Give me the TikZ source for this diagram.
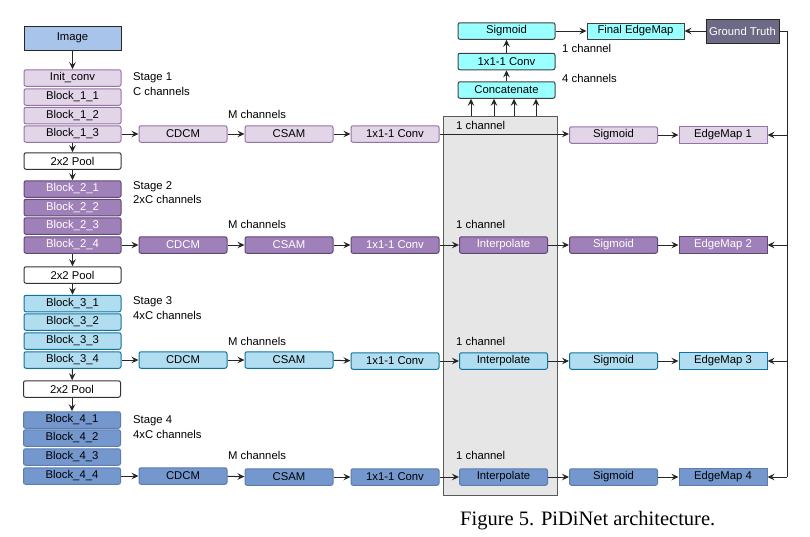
\documentclass[tikz,border=0pt]{standalone}
\usepackage{fontspec}
\setmainfont{Liberation Sans}
\newfontfamily\capfont{Liberation Serif}
\usepackage{tikz}
\usetikzlibrary{arrows.meta, calc, positioning}

\definecolor{imgfill}{HTML}{A9C4EB}
\definecolor{sonefill}{HTML}{E1D5E7}
\definecolor{sonedraw}{HTML}{9673A6}
\definecolor{stwofill}{HTML}{A080B8}
\definecolor{stwodraw}{HTML}{5E4A78}
\definecolor{sthreefill}{HTML}{B1DDF0}
\definecolor{sthreedraw}{HTML}{10739E}
\definecolor{sfourfill}{HTML}{7498CE}
\definecolor{sfourdraw}{HTML}{5C7CAE}
\definecolor{fusefill}{HTML}{99FFFF}
\definecolor{gtfill}{HTML}{6D6A85}
\definecolor{boxgrey}{HTML}{E6E6E6}

\tikzset{
    >={Stealth[length=7pt,width=6.5pt,inset=2.5pt]},
    every node/.style={font=\fontsize{11.3}{13}\selectfont},
    blk/.style={draw, rounded corners=2pt, line width=1pt, minimum width=97pt, minimum height=16.5pt, inner sep=0pt},
    mid/.style={blk, minimum width=88pt},
    sqr/.style={draw, line width=1pt, minimum width=88pt, minimum height=16.5pt, inner sep=0pt},
    sone/.style={fill=sonefill, draw=sonedraw},
    stwo/.style={fill=stwofill, draw=stwodraw, text=white},
    sthree/.style={fill=sthreefill, draw=sthreedraw},
    sfour/.style={fill=sfourfill, draw=sfourdraw},
    pool/.style={blk, fill=white, draw=black!80},
    topbox/.style={blk, fill=fusefill, draw=black!75},
    lbl/.style={anchor=west, inner sep=0pt},
    link/.style={->, line width=1pt, draw=black!85}
}

\begin{document}
\begin{tikzpicture}[x=1pt, y=-1pt]
    \useasboundingbox (0, 0) rectangle (810, 536);

    % grey fusion box
    \node[draw=black!65, fill=boxgrey, line width=1pt, minimum width=114pt, minimum height=379pt, inner sep=0pt] (fuse) at (500, 305.5) {};

    % backbone
    \node[draw=black!85, fill=imgfill, line width=1pt, minimum width=97pt, minimum height=24pt, inner sep=0pt] (img) at (72.5, 38) {Image};
    \node[blk, sone] (init) at (72.5, 78) {Init\_conv};
    \node[blk, sone] (b11) at (72.5, 97) {Block\_1\_1};
    \node[blk, sone] (b12) at (72.5, 115.5) {Block\_1\_2};
    \node[blk, sone] (b13) at (72.5, 134) {Block\_1\_3};
    \node[pool] (p1) at (72.5, 161) {2x2 Pool};
    \node[blk, stwo] (b21) at (72.5, 189) {Block\_2\_1};
    \node[blk, stwo] (b22) at (72.5, 207.5) {Block\_2\_2};
    \node[blk, stwo] (b23) at (72.5, 226) {Block\_2\_3};
    \node[blk, stwo] (b24) at (72.5, 245) {Block\_2\_4};
    \node[pool] (p2) at (72.5, 275) {2x2 Pool};
    \node[blk, sthree] (b31) at (72.5, 303.5) {Block\_3\_1};
    \node[blk, sthree] (b32) at (72.5, 322) {Block\_3\_2};
    \node[blk, sthree] (b33) at (72.5, 341) {Block\_3\_3};
    \node[blk, sthree] (b34) at (72.5, 360) {Block\_3\_4};
    \node[pool] (p3) at (72, 389) {2x2 Pool};
    \node[blk, sfour] (b41) at (72, 420) {Block\_4\_1};
    \node[blk, sfour] (b42) at (72, 438) {Block\_4\_2};
    \node[blk, sfour] (b43) at (72, 457) {Block\_4\_3};
    \node[blk, sfour] (b44) at (72, 476) {Block\_4\_4};

    \node[lbl] (st1) at (133, 78) {Stage 1};
    \node[lbl] (ch1) at (133, 91) {C channels};
    \node[lbl] (st2) at (133, 187) {Stage 2};
    \node[lbl] (ch2) at (133, 199) {2xC channels};
    \node[lbl] (st3) at (133, 302) {Stage 3};
    \node[lbl] (ch3) at (133, 315) {4xC channels};
    \node[lbl] (st4) at (133, 421) {Stage 4};
    \node[lbl] (ch4) at (133, 434) {4xC channels};

    % side outputs
    \node[mid, sone] (cd1) at (183, 134) {CDCM};
    \node[mid, sone] (cs1) at (289, 134) {CSAM};
    \node[mid, sone] (cv1) at (395, 134) {1x1-1 Conv};
    \node[mid, sone] (sg1) at (613.5, 135) {Sigmoid};
    \node[sqr, sone] (em1) at (723, 135) {EdgeMap 1};

    \node[mid, stwo] (cd2) at (183, 245) {CDCM};
    \node[mid, stwo] (cs2) at (289, 245) {CSAM};
    \node[mid, stwo] (cv2) at (395, 245) {1x1-1 Conv};
    \node[mid, stwo] (ip2) at (503.5, 245) {Interpolate};
    \node[mid, stwo] (sg2) at (613.5, 245) {Sigmoid};
    \node[sqr, stwo] (em2) at (723, 245) {EdgeMap 2};

    \node[mid, sthree] (cd3) at (183, 360) {CDCM};
    \node[mid, sthree] (cs3) at (289, 360) {CSAM};
    \node[mid, sthree] (cv3) at (395, 361) {1x1-1 Conv};
    \node[mid, sthree] (ip3) at (503.5, 361) {Interpolate};
    \node[mid, sthree] (sg3) at (613.5, 361) {Sigmoid};
    \node[sqr, sthree] (em3) at (723, 361) {EdgeMap 3};

    \node[mid, sfour] (cd4) at (183, 476) {CDCM};
    \node[mid, sfour] (cs4) at (289, 477) {CSAM};
    \node[mid, sfour] (cv4) at (395, 477) {1x1-1 Conv};
    \node[mid, sfour] (ip4) at (503.5, 477) {Interpolate};
    \node[mid, sfour] (sg4) at (613.5, 477) {Sigmoid};
    \node[sqr, sfour] (em4) at (723, 477) {EdgeMap 4};

    \node[lbl] (m1) at (228, 114) {M channels};
    \node[lbl] (m2) at (228, 224) {M channels};
    \node[lbl] (m3) at (228, 341) {M channels};
    \node[lbl] (m4) at (228, 455) {M channels};
    \node[lbl] (o1) at (456, 125) {1 channel};
    \node[lbl] (o2) at (456, 224) {1 channel};
    \node[lbl] (o3) at (456, 341) {1 channel};
    \node[lbl] (o4) at (456, 455) {1 channel};

    % fusion head
    \node[topbox] (cat) at (506.5, 90) {Concatenate};
    \node[topbox] (fcv) at (506.5, 61.5) {1x1-1 Conv};
    \node[topbox] (fsg) at (506.5, 31) {Sigmoid};
    \node[draw=black!75, fill=fusefill, line width=1pt, minimum width=97pt, minimum height=16pt, inner sep=0pt] (final) at (635.5, 31) {Final EdgeMap};
    \node[draw=black!85, fill=gtfill, text=white, line width=1pt, minimum width=73pt, minimum height=24pt, inner sep=0pt] (gt) at (742.5, 31) {Ground Truth};
    \node[lbl] (oc) at (562, 48) {1 channel};
    \node[lbl] (fc) at (562, 78) {4 channels};

    \coordinate (u1) at (471, 116);
    \coordinate (u2) at (494, 116);
    \coordinate (u3) at (514, 116);
    \coordinate (u4) at (536, 116);
    \coordinate (rail) at (787, 477);

    \node[font=\capfont\fontsize{20.5}{24}\selectfont, anchor=west, inner sep=0pt] (cap) at (460, 521) {Figure 5. PiDiNet architecture.};

    % connectors
    \draw[link] (img) -- (init);
    \draw[link] (b13) -- (p1);
    \draw[link] (p1) -- (b21);
    \draw[link] (b24) -- (p2);
    \draw[link] (p2) -- (b31);
    \draw[link] (b34) -- (p3);
    \draw[link] (p3) -- (b41);

    \draw[link] (b13) -- (cd1);
    \draw[link] (cd1) -- (cs1);
    \draw[link] (cs1) -- (cv1);
    \draw[link] (cv1.east) -- (sg1.west |- cv1.east);
    \draw[link] (sg1) -- (em1);

    \draw[link] (b24) -- (cd2);
    \draw[link] (cd2) -- (cs2);
    \draw[link] (cs2) -- (cv2);
    \draw[link] (cv2) -- (ip2);
    \draw[link] (ip2) -- (sg2);
    \draw[link] (sg2) -- (em2);

    \draw[link] (b34) -- (cd3);
    \draw[link] (cd3) -- (cs3);
    \draw[link] (cs3) -- (cv3);
    \draw[link] (cv3) -- (ip3);
    \draw[link] (ip3) -- (sg3);
    \draw[link] (sg3) -- (em3);

    \draw[link] (b44) -- (cd4);
    \draw[link] (cd4) -- (cs4);
    \draw[link] (cs4) -- (cv4);
    \draw[link] (cv4) -- (ip4);
    \draw[link] (ip4) -- (sg4);
    \draw[link] (sg4) -- (em4);

    \draw[link] (u1) -- (u1 |- cat.south);
    \draw[link] (u2) -- (u2 |- cat.south);
    \draw[link] (u3) -- (u3 |- cat.south);
    \draw[link] (u4) -- (u4 |- cat.south);
    \draw[link] (cat) -- (fcv);
    \draw[link] (fcv) -- (fsg);
    \draw[link] (fsg) -- (final);
    \draw[link] (gt) -- (final);

    \draw[line width=1pt, draw=black!85] (gt.east) -| (rail);
    \draw[link] (rail |- em1) -- (em1);
    \draw[link] (rail |- em2) -- (em2);
    \draw[link] (rail |- em3) -- (em3);
    \draw[link] (rail) -- (em4);
\end{tikzpicture}
\end{document}
